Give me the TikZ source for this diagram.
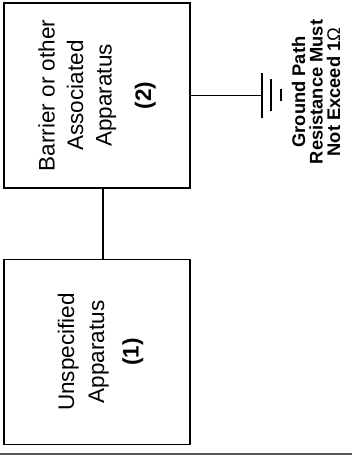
\documentclass[tikz,border=0pt]{standalone}
\usepackage{fontspec}
\setmainfont{Liberation Sans}

\tikzset{
    Apparatus/.style = {draw, line width=1.1pt, rotate=90, minimum width=185pt,
        minimum height=186pt, align=center, font=\fontsize{22.5}{28.5}\selectfont},
    GroundText/.style = {rotate=90, align=center, font=\fontsize{18.3}{17.5}\selectfont\bfseries},
    Wire/.style = {line width=1.1pt}
}

\begin{document}
\begin{tikzpicture}[x=1pt,y=1pt]
    \useasboundingbox (0,0) rectangle (352,455);

    \node[Apparatus] (B) at (97,359.5) {Barrier or other\\Associated\\Apparatus\\[11pt]\textbf{(2)}};
    \node[Apparatus] (U) at (97,103) {\rule{0pt}{23.5pt}Unspecified\\[1.5pt]Apparatus\\[6pt]\textbf{(1)}};
    \coordinate (G) at (262,359.5);
    \node[GroundText] (GP) at (316,363) {Ground Path\\Resistance Must\\Not Exceed 1{\mdseries Ω}};

    \draw[Wire] ([xshift=6pt]B.west) -- ([xshift=6pt]U.east);
    \draw[Wire] (B.south) -- (G);
    \draw[Wire] (G) ++(0,-22.5) -- ++(0,45);
    \draw[Wire] (G) ++(9,-16) -- ++(0,32);
    \draw[Wire] (G) ++(19,-6) -- ++(0,12);

    \draw[gray!70!black, line width=2pt] (0,1) -- (352,1);
\end{tikzpicture}
\end{document}
